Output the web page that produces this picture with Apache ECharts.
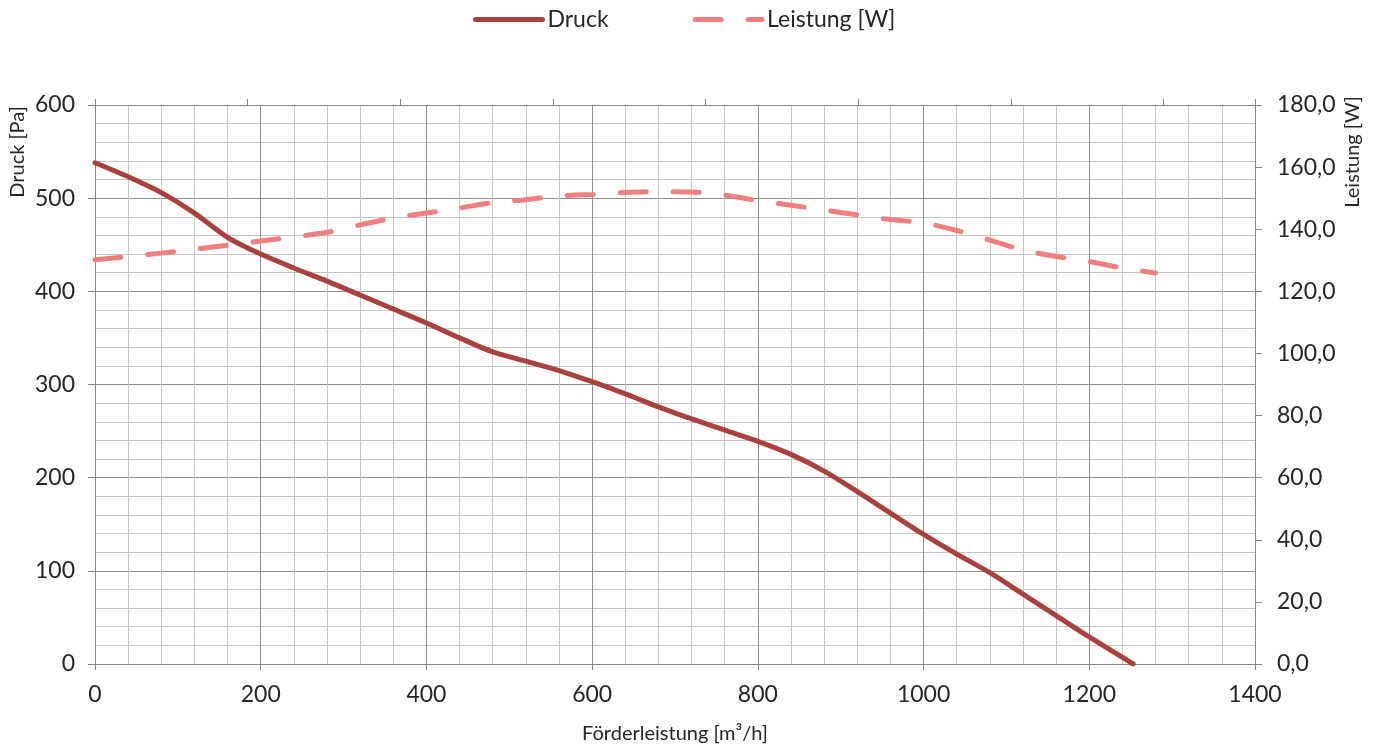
<!DOCTYPE html>
<html>
<head>
<meta charset="utf-8">
<script src="https://cdn.jsdelivr.net/npm/echarts@6/dist/echarts.min.js"></script>
<style>
html,body{margin:0;padding:0;background:#fff;}
#chart{width:1378px;height:749px;}
</style>
</head>
<body>
<div id="chart"></div>
<script>
var xDruck = [0,40,80,120,160,200,240,280,320,360,400,440,480,520,560,600,640,680,720,760,800,840,880,920,960,1000,1040,1080,1120,1160,1200,1253];
var druck  = [538,523,506,484,458,440,425,411,396,381,366,350,335,325,315,303,290,276,263,251,239,225,207,185,162,139,118,98,75,52,29,0];
var xLeistung = [0,40,80,120,160,200,240,280,320,360,400,440,480,520,560,600,640,680,720,760,800,840,880,920,960,1000,1040,1080,1120,1160,1200,1240,1280];
var leistung  = [130.2,131.2,132.3,133.6,134.8,136.2,137.5,139,141.4,143.6,145.2,146.8,148.6,149.5,150.7,151.2,151.8,152.1,152,151,149.2,147.7,146.2,144.6,143.1,142,139.6,136.5,133.3,131.2,129.6,127.5,125.9];
var seriesNames = ['Druck','Leistung [W]'];
var xTitle = 'Förderleistung [m³/h]';
var yLeftTitle = 'Druck [Pa]';
var yRightTitle = 'Leistung [W]';

var FONT = 'Lato';
var TXT = '#262626';
var AX = '#868686';
var chart = echarts.init(document.getElementById('chart'));
chart.setOption({
  animation:false,
  backgroundColor:'#fff',
  textStyle:{fontFamily:FONT},
  legend:{
    top:3, left:468, itemWidth:67, itemHeight:14, itemGap:84,
    textStyle:{fontSize:23,color:TXT,fontFamily:FONT},
    itemStyle:{opacity:0},
    lineStyle:{width:5,cap:'round'},
    data:seriesNames
  },
  grid:{left:95,right:123,top:105,bottom:84},
  graphic:[
    {type:'text', x:18, y:152, rotation:Math.PI/2,
     style:{text:yLeftTitle, fontSize:20, fontFamily:FONT, fill:TXT, align:'center', verticalAlign:'middle'}},
    {type:'text', x:1353, y:152, rotation:Math.PI/2,
     style:{text:yRightTitle, fontSize:20, fontFamily:FONT, fill:TXT, align:'center', verticalAlign:'middle'}}
  ],
  xAxis:[{
    type:'value', position:'bottom', min:0, max:1400, interval:200,
    name:xTitle, nameLocation:'middle', nameGap:60,
    nameTextStyle:{fontSize:20,color:TXT,fontFamily:FONT},
    axisLine:{show:true,onZero:false,lineStyle:{color:AX,width:1}},
    axisTick:{show:true,length:6,lineStyle:{color:AX}},
    axisLabel:{fontSize:23,color:TXT,margin:19,fontFamily:FONT,formatter:function(v){return String(v);}},
    splitLine:{show:true,lineStyle:{color:'#8f8f8f',width:1}},
    minorTick:{show:false,splitNumber:5},
    minorSplitLine:{show:true,lineStyle:{color:'#c6c6c6',width:1}}
  },{
    type:'value', position:'top', min:0, max:7.6, interval:1,
    axisLine:{show:true,onZero:false,lineStyle:{color:AX,width:1}},
    axisTick:{show:true,length:6,lineStyle:{color:AX}},
    axisLabel:{show:false},
    splitLine:{show:false}
  }],
  yAxis:[{
    type:'value', position:'left', min:0, max:600, interval:100,
    axisLine:{show:true,onZero:false,lineStyle:{color:AX,width:1}},
    axisTick:{show:true,length:7,lineStyle:{color:AX}},
    axisLabel:{fontSize:23,color:TXT,margin:20,fontFamily:FONT,formatter:function(v){return String(v);}},
    splitLine:{show:true,lineStyle:{color:'#8f8f8f',width:1}},
    minorTick:{show:false,splitNumber:5},
    minorSplitLine:{show:true,lineStyle:{color:'#c6c6c6',width:1}}
  },{
    type:'value', position:'right', min:0, max:180, interval:20,
    axisLine:{show:true,onZero:false,lineStyle:{color:AX,width:1}},
    axisTick:{show:true,length:7,lineStyle:{color:AX}},
    axisLabel:{fontSize:23,color:TXT,margin:22,fontFamily:FONT,
      formatter:function(v){return v.toFixed(1).replace('.',',');}},
    splitLine:{show:false}
  }],
  series:[{
    name:seriesNames[0], type:'line', xAxisIndex:0, yAxisIndex:0,
    data:xDruck.map(function(x,i){return [x,druck[i]];}),
    smooth:0.3, showSymbol:false, symbol:'none',
    lineStyle:{color:'#a9423f',width:5,cap:'round'},
    itemStyle:{color:'#a9423f'}, z:3
  },{
    name:seriesNames[1], type:'line', xAxisIndex:0, yAxisIndex:1,
    data:xLeistung.map(function(x,i){return [x,leistung[i]];}),
    smooth:0.3, showSymbol:false, symbol:'none',
    lineStyle:{color:'#f07f7f',width:5,type:[26,27],cap:'round'},
    itemStyle:{color:'#f07f7f'}, z:2
  }]
});
</script>
</body>
</html>
